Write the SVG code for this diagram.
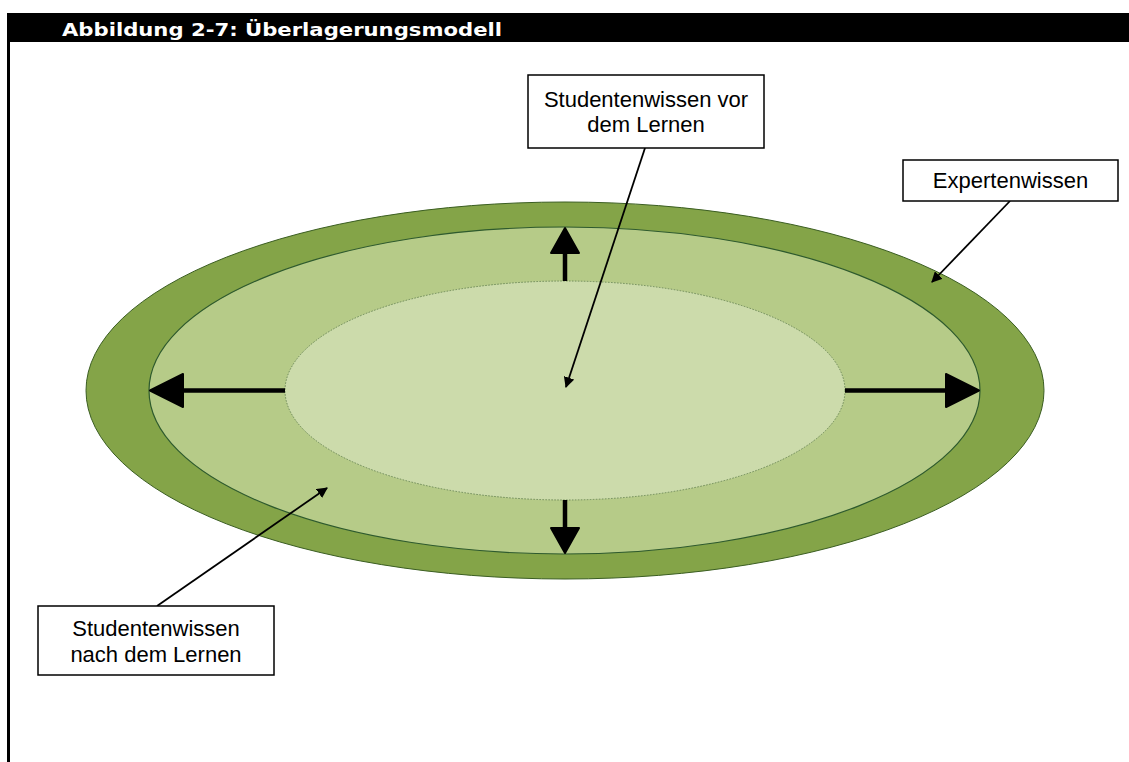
<svg xmlns="http://www.w3.org/2000/svg" width="1129" height="762" viewBox="0 0 1129 762">
  <style>
    .title { font-family: "DejaVu Sans", Verdana, sans-serif; font-weight: bold; font-size: 18px; fill: #ffffff; }
    .label { font-family: "Liberation Sans", Arial, sans-serif; font-size: 22px; fill: #000000; text-anchor: middle; }
    .box { fill: #ffffff; stroke: #000000; stroke-width: 1.5; }
    .pointer { stroke: #000000; stroke-width: 1.8; fill: none; marker-end: url(#tip); }
    .grow { stroke: #000000; stroke-width: 4.5; fill: none; }
    .head { fill: #000000; stroke: #000000; stroke-width: 2; stroke-linejoin: round; }
  </style>
  <defs>
    <marker id="tip" viewBox="0 0 10 10" refX="9" refY="5" markerWidth="6" markerHeight="6" orient="auto" markerUnits="strokeWidth">
      <path d="M0,0 L10,5 L0,10 Z" fill="#000000"/>
    </marker>
  </defs>

  <rect width="1129" height="762" fill="#ffffff"/>

  <!-- page frame: heading bar and left rule -->
  <g id="header">
    <rect x="7" y="13" width="1122" height="29" fill="#000000"/>
    <rect x="7" y="13" width="3" height="749" fill="#000000"/>
    <text class="title" x="62" y="36" textLength="440" lengthAdjust="spacingAndGlyphs">Abbildung 2-7: Überlagerungsmodell</text>
  </g>

  <!-- nested knowledge areas -->
  <g id="expert-area">
    <ellipse cx="565" cy="390.5" rx="479" ry="188.5" fill="#84A448" stroke="#3B5E22" stroke-width="1"/>
  </g>
  <g id="after-learning-area">
    <ellipse cx="564.5" cy="390.5" rx="415.5" ry="163.5" fill="#B6CB88" stroke="#2E5A2E" stroke-width="1.2"/>
  </g>
  <g id="before-learning-area">
    <ellipse cx="565" cy="390.5" rx="280" ry="109.5" fill="#CCDBAB" stroke="#6E8A5A" stroke-width="1" stroke-dasharray="1.5,1.5"/>
  </g>

  <!-- growth arrows from inner to middle area -->
  <g id="growth-arrows">
    <line class="grow" x1="565" y1="281" x2="565" y2="252"/>
    <polygon class="head" points="565,228 551,253 579,253"/>
    <line class="grow" x1="565" y1="500" x2="565" y2="528"/>
    <polygon class="head" points="565,553 551,528 579,528"/>
    <line class="grow" x1="285" y1="390.5" x2="182" y2="390.5"/>
    <polygon class="head" points="150,390.5 183,374 183,407"/>
    <line class="grow" x1="845" y1="390.5" x2="947" y2="390.5"/>
    <polygon class="head" points="979,390.5 946,374 946,407"/>
  </g>

  <!-- callout pointers -->
  <g id="connectors">
    <line class="pointer" x1="645" y1="148" x2="566" y2="387"/>
    <line class="pointer" x1="1010" y1="201" x2="932" y2="282"/>
    <line class="pointer" x1="157" y1="606" x2="327" y2="488"/>
  </g>

  <g id="label-before">
    <rect class="box" x="528" y="75" width="236" height="73"/>
    <text class="label" x="646" y="107">Studentenwissen vor</text>
    <text class="label" x="646" y="132">dem Lernen</text>
  </g>

  <g id="label-expert">
    <rect class="box" x="903" y="160" width="215" height="41"/>
    <text class="label" x="1010.5" y="188">Expertenwissen</text>
  </g>

  <g id="label-after">
    <rect class="box" x="38" y="606" width="236" height="69"/>
    <text class="label" x="156" y="636">Studentenwissen</text>
    <text class="label" x="156" y="662">nach dem Lernen</text>
  </g>
</svg>
